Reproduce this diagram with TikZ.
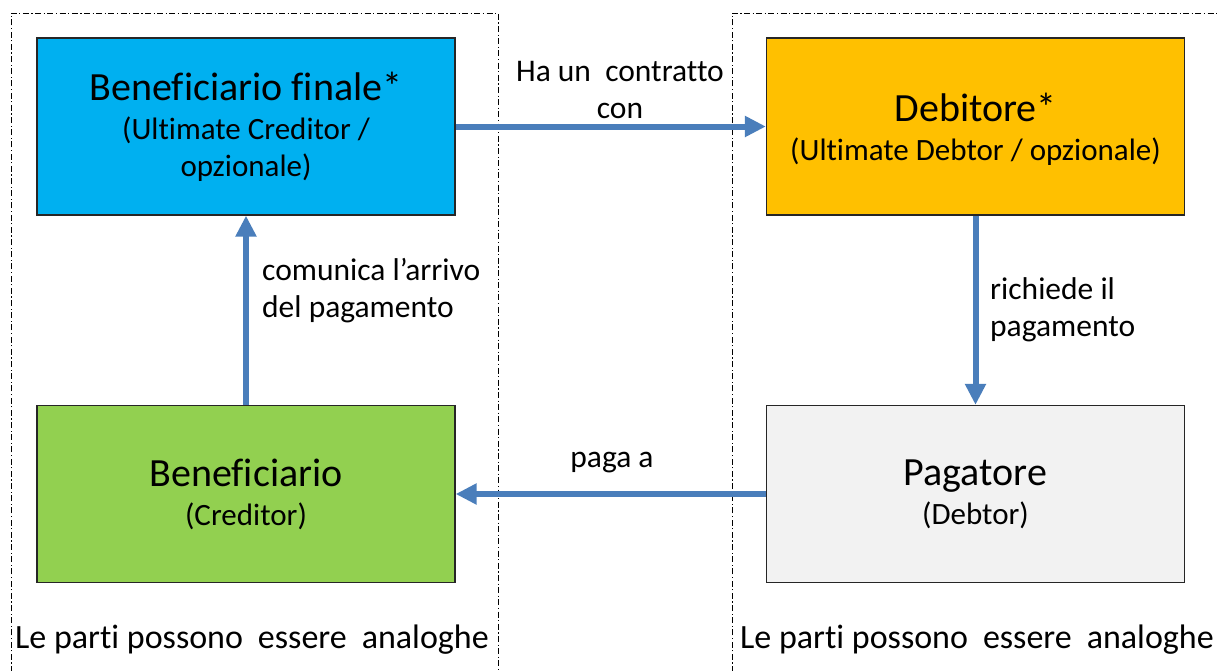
\documentclass[tikz,border=0pt]{standalone}
\usepackage{fontspec}
\setmainfont{Carlito}[Ligatures={NoCommon}]
\usetikzlibrary{arrows.meta}
\definecolor{boxblue}{HTML}{00B0F0}
\definecolor{boxyellow}{HTML}{FFC000}
\definecolor{boxgreen}{HTML}{92D050}
\definecolor{boxgrey}{HTML}{F2F2F2}
\definecolor{arrowblue}{HTML}{4A7EBB}
\newcommand{\titlef}{\fontsize{40}{43}\selectfont}
\newcommand{\subf}{\fontsize{31}{37}\selectfont}
\newcommand{\wsp}{\hspace{15pt}}
\tikzset{
  party/.style={draw=black!85, line width=1.3pt, minimum width=418pt, minimum height=177pt,
    align=center, inner sep=0pt, font=\subf},
  flow/.style={draw=arrowblue, line width=6pt, -{Triangle[length=21pt,width=20pt]}},
  frame/.style={draw=black, line width=1pt, dash pattern=on 6pt off 2.5pt on 1.2pt off 2.5pt},
  lbl/.style={font=\fontsize{31.5}{37}\selectfont, align=left, inner sep=0pt},
  foot/.style={font=\fontsize{34}{36}\selectfont, inner sep=0pt, anchor=west}
}
\begin{document}
\begin{tikzpicture}[x=1pt,y=-1pt]
\useasboundingbox (0,0) rectangle (1219,670);
% dashed frames
\draw[frame] (11,672) -- (11,13) -- (498,13) -- (498,672);
\draw[frame] (732,672) -- (732,13) -- (1225,13);
% boxes
\node[party, fill=boxblue] (bf) at (246,126.5)
  {{\titlef Beneficiario finale*}\\[2pt](Ultimate Creditor /\\opzionale)};
\node[party, fill=boxyellow, text depth=-3pt] (deb) at (975.5,126.5)
  {{\titlef Debitore*}\\[2pt](Ultimate Debtor / opzionale)};
\node[party, fill=boxgreen] (ben) at (246,494)
  {{\titlef Beneficiario}\\[2pt](Creditor)};
\node[party, fill=boxgrey] (pag) at (975.5,494)
  {{\titlef Pagatore}\\[2pt](Debtor)};
% arrows
\draw[flow] (bf.east) -- (deb.west);
\draw[flow] (deb.south) -- (pag.north);
\draw[flow] (pag.west) -- (ben.east);
\draw[flow] (ben.north) -- (bf.south);
% labels
\node[lbl, align=center] (l1) at (620,90) {Ha un\ \ contratto\\con};
\node[lbl, anchor=west] (l2) at (990,310) {richiede il\\pagamento};
\node[lbl, anchor=west] (l3) at (262,291) {comunica l’arrivo\\del pagamento};
\node[lbl] (l4) at (612,463) {paga a};
\node[foot] (f1) at (15,640) {Le parti possono\wsp essere\wsp analoghe};
\node[foot] (f2) at (740,640) {Le parti possono\wsp essere\wsp analoghe};
\end{tikzpicture}
\end{document}
